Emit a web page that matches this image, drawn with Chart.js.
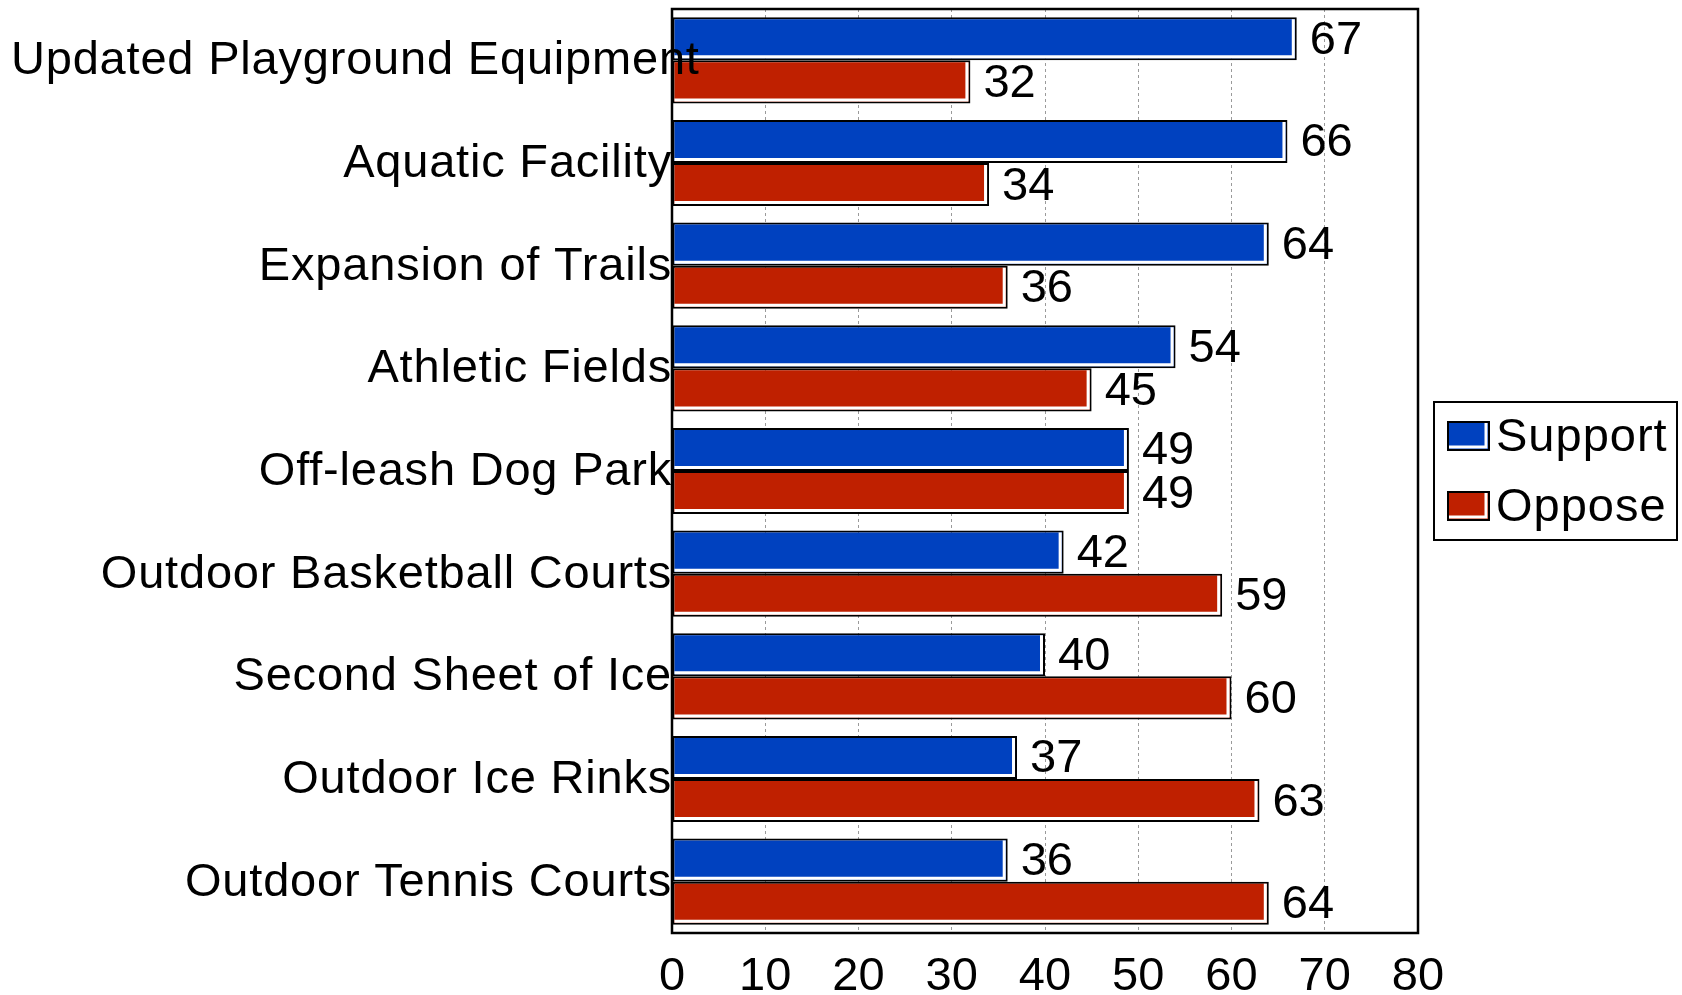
<!DOCTYPE html>
<html>
<head>
<meta charset="utf-8">
<script src="https://cdn.jsdelivr.net/npm/chart.js@4.4.1/dist/chart.umd.min.js"></script>
<style>
  html, body { margin: 0; padding: 0; background: #fff; }
  #wrap { width: 1682px; height: 995px; }
</style>
</head>
<body>
<div id="wrap"><canvas id="chart"></canvas></div>
<script>
// Data
const categories = [
  "Updated Playground Equipment",
  "Aquatic Facility",
  "Expansion of Trails",
  "Athletic Fields",
  "Off-leash Dog Park",
  "Outdoor Basketball Courts",
  "Second Sheet of Ice",
  "Outdoor Ice Rinks",
  "Outdoor Tennis Courts"
];
const supportValues = [67, 66, 64, 54, 49, 42, 40, 37, 36];
const opposeValues  = [32, 34, 36, 45, 49, 59, 60, 63, 64];
const seriesNames = ["Support", "Oppose"];
const xMin = 0, xMax = 80, xStep = 10;

const FONT = '"Liberation Sans", Arial, sans-serif';
const BLUE = "#0041BF", RED = "#BF2000";

// white inner stripe on right/bottom of each bar, frame, value + category labels
const barDecor = {
  id: "barDecor",
  afterDatasetsDraw(chart) {
    const { ctx, chartArea: a } = chart;
    ctx.save();
    ctx.strokeStyle = "#fff";
    ctx.lineWidth = 3;
    chart.data.datasets.forEach((ds, i) => {
      chart.getDatasetMeta(i).data.forEach(bar => {
        const top = bar.y - bar.height / 2, bottom = bar.y + bar.height / 2;
        ctx.beginPath();
        ctx.moveTo(bar.base + 2, bottom - 3.5);
        ctx.lineTo(bar.x - 3.5, bottom - 3.5);
        ctx.lineTo(bar.x - 3.5, top + 2);
        ctx.stroke();
      });
    });

    // plot frame
    ctx.strokeStyle = "#000";
    ctx.lineWidth = 2.5;
    ctx.strokeRect(a.left, a.top, a.right - a.left, a.bottom - a.top);

    // value labels
    ctx.fillStyle = "#000";
    ctx.font = "47px " + FONT;
    ctx.textAlign = "left";
    ctx.textBaseline = "middle";
    chart.data.datasets.forEach((ds, i) => {
      chart.getDatasetMeta(i).data.forEach((bar, j) => {
        ctx.fillText(String(ds.data[j]), bar.x + 13, bar.y + 2);
      });
    });

    // category labels: right aligned at the axis, but never starting left of the margin
    const yScale = chart.scales.y;
    ctx.letterSpacing = "0.8px";
    ctx.textAlign = "left";
    chart.data.labels.forEach((lab, i) => {
      const w = ctx.measureText(lab).width;
      const x = Math.max(a.left - w, 11);
      ctx.fillText(lab, x, yScale.getPixelForValue(i) + 1);
    });
    ctx.restore();
  }
};

// boxed legend on the right
const boxLegend = {
  id: "boxLegend",
  afterDraw(chart) {
    const { ctx, chartArea: a } = chart;
    const w = 243, h = 138;
    const left = a.right + 16;
    const top = (a.top + a.bottom) / 2 - h / 2;
    ctx.save();
    ctx.fillStyle = "#fff";
    ctx.fillRect(left, top, w, h);
    ctx.strokeStyle = "#000";
    ctx.lineWidth = 2;
    ctx.strokeRect(left, top, w, h);

    chart.data.datasets.forEach((ds, i) => {
      const cy = top + 34 + i * 70;
      const sx = left + 14, sw = 41, sh = 28, sy = cy - sh / 2;
      ctx.fillStyle = ds.backgroundColor;
      ctx.fillRect(sx, sy, sw, sh);
      ctx.strokeStyle = "#fff";
      ctx.lineWidth = 3;
      ctx.beginPath();
      ctx.moveTo(sx + 1, sy + sh - 3);
      ctx.lineTo(sx + sw - 3, sy + sh - 3);
      ctx.lineTo(sx + sw - 3, sy + 1);
      ctx.stroke();
      ctx.strokeStyle = "#000";
      ctx.lineWidth = 2;
      ctx.strokeRect(sx, sy, sw, sh);

      ctx.fillStyle = "#000";
      ctx.font = "47px " + FONT;
      ctx.letterSpacing = "1px";
      ctx.textAlign = "left";
      ctx.textBaseline = "middle";
      ctx.fillText(ds.label, sx + sw + 7, cy + 2);
    });
    ctx.restore();
  }
};

new Chart(document.getElementById("chart").getContext("2d"), {
  type: "bar",
  data: {
    labels: categories,
    datasets: [
      { label: seriesNames[0], data: supportValues, backgroundColor: BLUE,
        borderColor: "#000", borderWidth: 2, borderSkipped: false },
      { label: seriesNames[1], data: opposeValues, backgroundColor: RED,
        borderColor: "#000", borderWidth: 2, borderSkipped: false }
    ]
  },
  options: {
    indexAxis: "y",
    responsive: true,
    maintainAspectRatio: false,
    animation: false,
    events: [],
    layout: { padding: { top: 9, right: 264, left: 0, bottom: 0 } },
    datasets: { bar: { categoryPercentage: 0.84, barPercentage: 1.0 } },
    plugins: { legend: { display: false }, tooltip: { enabled: false } },
    scales: {
      x: {
        min: xMin, max: xMax,
        ticks: { stepSize: xStep, color: "#000", padding: 16, font: { family: FONT, size: 47 } },
        grid: { color: "#9a9a9a", lineWidth: 1, drawTicks: false },
        border: { display: false, dash: [3, 3] },
        afterFit: (s) => { s.height = 62; }
      },
      y: {
        ticks: { display: false },
        grid: { display: false, drawTicks: false },
        border: { display: false },
        afterFit: (s) => { s.width = 672; s.paddingTop = 0; s.paddingBottom = 0; }
      }
    }
  },
  plugins: [barDecor, boxLegend]
});
</script>
</body>
</html>
